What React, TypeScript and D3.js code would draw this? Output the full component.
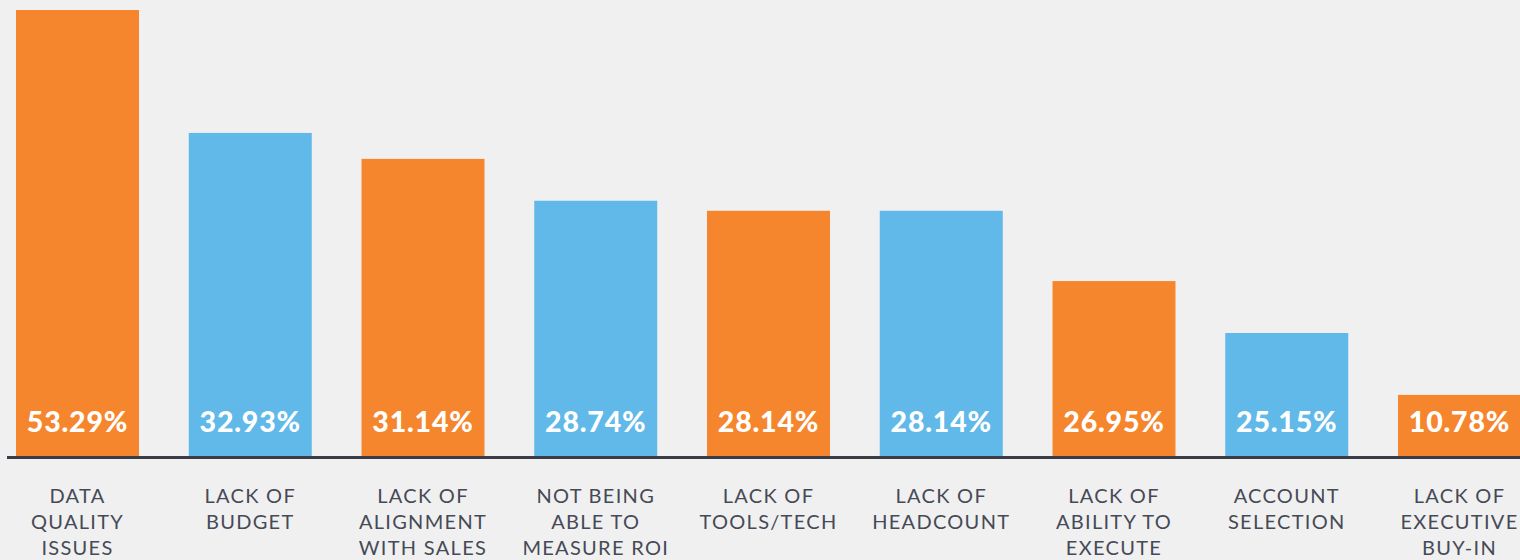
import React from "react";
import * as d3 from "d3";

// Categories (each line of the wrapped label)
const categories: string[][] = [
  ["DATA", "QUALITY", "ISSUES"],
  ["LACK OF", "BUDGET"],
  ["LACK OF", "ALIGNMENT", "WITH SALES"],
  ["NOT BEING", "ABLE TO", "MEASURE ROI"],
  ["LACK OF", "TOOLS/TECH"],
  ["LACK OF", "HEADCOUNT"],
  ["LACK OF", "ABILITY TO", "EXECUTE"],
  ["ACCOUNT", "SELECTION"],
  ["LACK OF", "EXECUTIVE", "BUY-IN"],
];

// Printed percentages
const percentages: number[] = [53.29, 32.93, 31.14, 28.74, 28.14, 28.14, 26.95, 25.15, 10.78];

// Visual bar lengths as drawn in the original infographic (in the same units
// as the top bar; the original bars are not proportional to the printed values)
const barLengths: number[] = [53.29, 38.6, 35.5, 30.5, 29.3, 29.3, 20.9, 14.7, 7.3];

// Alternating colour pattern
const barColors: string[] = ["orange", "blue", "orange", "blue", "orange", "blue", "orange", "blue", "orange"];

const W = 1520;
const H = 560;
const BASE = 456;
const TOP = 10;

const palette: Record<string, string> = { orange: "#F6862D", blue: "#60B9E8" };

export default function App() {
  const keys = categories.map((_, i) => String(i));
  const step = 172.75;
  const x = d3
    .scaleBand<string>()
    .domain(keys)
    .range([16 - step * 0.144, 16 - step * 0.144 + step * keys.length])
    .paddingInner(0.288)
    .paddingOuter(0.144);
  const y = d3.scaleLinear().domain([0, d3.max(barLengths) as number]).range([BASE, TOP]);

  return (
    <svg
      width={W}
      height={H}
      style={{ position: "absolute", left: 0, top: 0, display: "block" }}
    >
      <rect x={0} y={0} width={W} height={H} fill="#F0F0F0" />
      {keys.map((k, i) => (
        <g key={k}>
          <rect
            x={x(k)}
            y={y(barLengths[i])}
            width={x.bandwidth()}
            height={BASE - y(barLengths[i])}
            fill={palette[barColors[i]]}
          />
          <text
            x={(x(k) as number) + x.bandwidth() / 2}
            y={431.5}
            textAnchor="middle"
            fill="#FFFFFF"
            fontFamily="Lato, sans-serif"
            fontWeight={900}
            fontSize={28.5}
            letterSpacing={0.8}
          >
            {d3.format(".2f")(percentages[i]) + "%"}
          </text>
          {categories[i].map((line, j) => (
            <text
              key={j}
              x={(x(k) as number) + x.bandwidth() / 2}
              y={502.5 + j * 26.2}
              textAnchor="middle"
              fill="#464A56"
              fontFamily="Lato, sans-serif"
              fontSize={20}
              letterSpacing={1.3}
            >
              {line}
            </text>
          ))}
        </g>
      ))}
      <line x1={7} x2={W} y1={457.5} y2={457.5} stroke="#3A3D46" strokeWidth={3} />
    </svg>
  );
}
